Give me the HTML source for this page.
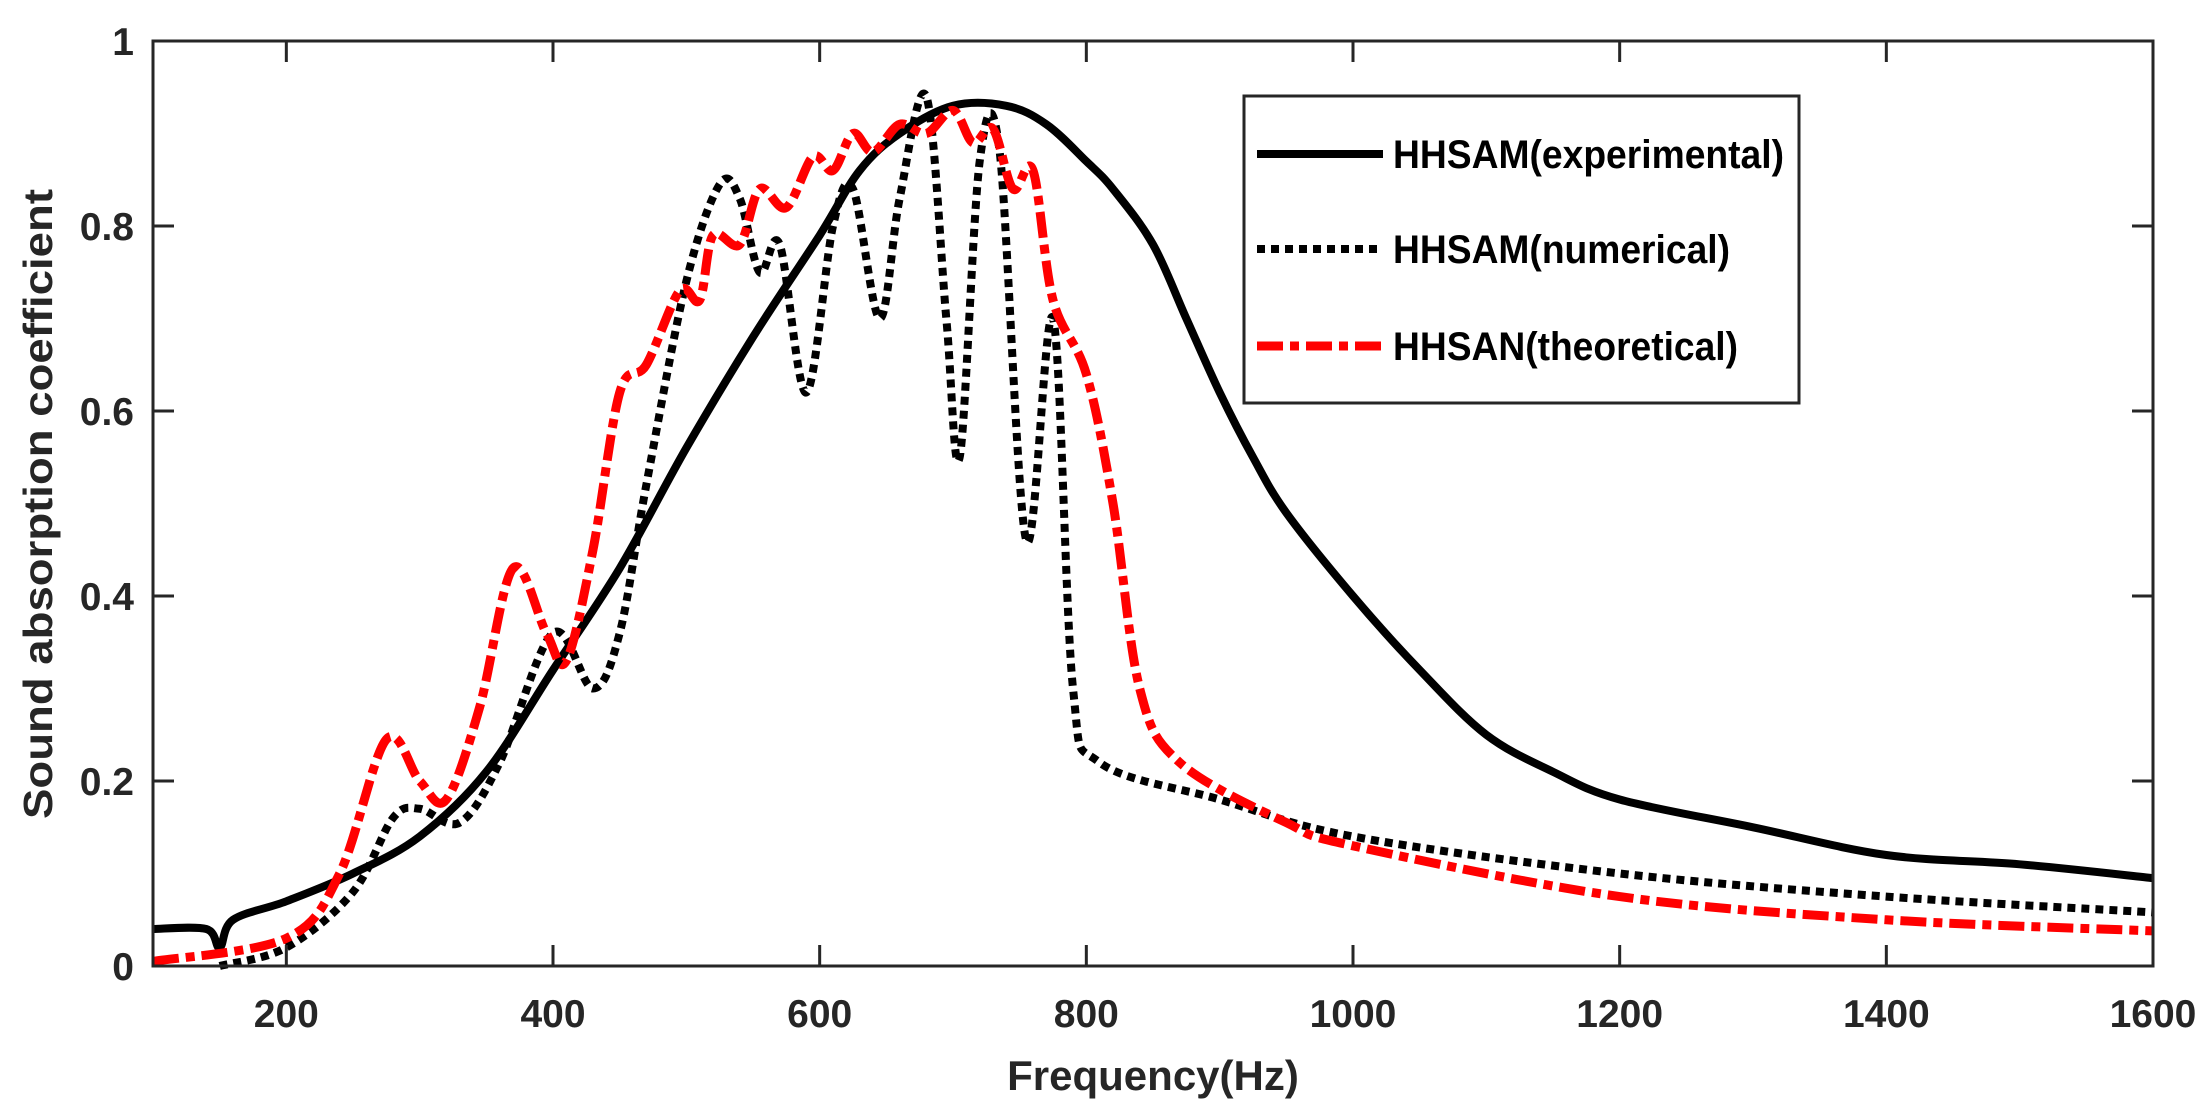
<!DOCTYPE html>
<html><head><meta charset="utf-8"><style>
html,body{margin:0;padding:0;background:#fff;}
svg{display:block;font-family:"Liberation Sans",Arial,sans-serif;font-weight:bold;}
</style></head><body>
<svg id="chart" width="2211" height="1115" viewBox="0 0 2211 1115" xmlns="http://www.w3.org/2000/svg">
<rect x="0" y="0" width="2211" height="1115" fill="#fff"/>
<g id="marks"></g>
<rect x="153" y="41" width="2000" height="925" fill="none" stroke="#262626" stroke-width="3"/>
<g id="ticks"></g>
<text x="1153" y="1090" font-size="42" text-anchor="middle" fill="#262626">Frequency(Hz)</text>
<text transform="translate(52,504) rotate(-90)" font-size="41" text-anchor="middle" fill="#262626" textLength="630" lengthAdjust="spacingAndGlyphs">Sound absorption coefficient</text>
<g>
<rect x="1244" y="96" width="555" height="307" fill="#fff" stroke="#262626" stroke-width="3"/>
<line x1="1257" y1="154" x2="1383" y2="154" stroke="#000" stroke-width="8"/>
<text x="1393" y="168" font-size="40" fill="#000" textLength="391" lengthAdjust="spacingAndGlyphs">HHSAM(experimental)</text>
<line x1="1257" y1="249" x2="1377" y2="249" stroke="#000" stroke-width="8" stroke-dasharray="8,6"/>
<text x="1393" y="263" font-size="40" fill="#000" textLength="337" lengthAdjust="spacingAndGlyphs">HHSAM(numerical)</text>
<line x1="1257" y1="346" x2="1383" y2="346" stroke="#f00" stroke-width="9" stroke-dasharray="26,7,9,7"/>
<text x="1393" y="360" font-size="40" fill="#000" textLength="345" lengthAdjust="spacingAndGlyphs">HHSAN(theoretical)</text>
</g>
</svg>
<script>
const expFreq=[100,140,150,160,200,250,300,350,400,450,500,550,600,630,660,700,740,770,800,820,850,875,900,925,950,1000,1050,1100,1150,1200,1300,1400,1500,1600];
const expVal=[0.04,0.04,0.02,0.05,0.07,0.10,0.14,0.21,0.32,0.43,0.56,0.68,0.79,0.86,0.90,0.93,0.93,0.91,0.87,0.84,0.78,0.70,0.62,0.55,0.49,0.40,0.32,0.25,0.21,0.18,0.15,0.12,0.11,0.095];
const numFreq=[150,200,250,280,300,330,360,400,430,450,470,500,525,540,555,570,590,610,625,645,660,680,695,705,720,735,755,775,790,810,900,1000,1200,1400,1600];
const numVal=[0.0,0.02,0.08,0.16,0.17,0.155,0.22,0.36,0.30,0.36,0.52,0.74,0.845,0.83,0.75,0.78,0.62,0.80,0.84,0.70,0.83,0.94,0.70,0.55,0.87,0.88,0.46,0.70,0.30,0.22,0.18,0.14,0.10,0.075,0.058];
const thFreq=[100,200,240,275,300,320,345,370,395,410,430,450,470,495,510,520,540,555,575,595,610,625,640,660,680,700,715,730,745,760,775,800,820,840,870,950,1000,1200,1400,1600];
const thVal=[0.005,0.03,0.1,0.245,0.20,0.18,0.28,0.43,0.36,0.33,0.45,0.62,0.65,0.73,0.72,0.79,0.78,0.84,0.82,0.875,0.86,0.90,0.88,0.91,0.90,0.925,0.89,0.905,0.84,0.86,0.72,0.64,0.50,0.30,0.22,0.155,0.13,0.075,0.05,0.038];
const xTicks=[200,400,600,800,1000,1200,1400,1600];
const yTicks=[0,0.2,0.4,0.6,0.8,1];
const yTickLabels=["0","0.2","0.4","0.6","0.8","1"];

const X=f=>153+(f-100)*2000/1500;
const Y=v=>966-v*925;
const NS="http://www.w3.org/2000/svg";
function smoothPath(fs,vs){
  const p=fs.map((f,i)=>[X(f),Y(vs[i])]);
  let d="M"+p[0][0].toFixed(1)+","+p[0][1].toFixed(1);
  for(let i=0;i<p.length-1;i++){
    const p0=p[Math.max(0,i-1)],p1=p[i],p2=p[i+1],p3=p[Math.min(p.length-1,i+2)];
    const c1=[p1[0]+(p2[0]-p0[0])/6,p1[1]+(p2[1]-p0[1])/6];
    const c2=[p2[0]-(p3[0]-p1[0])/6,p2[1]-(p3[1]-p1[1])/6];
    d+="C"+c1[0].toFixed(1)+","+c1[1].toFixed(1)+" "+c2[0].toFixed(1)+","+c2[1].toFixed(1)+" "+p2[0].toFixed(1)+","+p2[1].toFixed(1);
  }
  return d;
}
const marks=document.getElementById('marks');
function addSeries(fs,vs,color,w,dash,name){
  const el=document.createElementNS(NS,'path');
  el.setAttribute('d',smoothPath(fs,vs));
  el.setAttribute('fill','none');
  el.setAttribute('stroke',color);
  el.setAttribute('stroke-width',w);
  el.setAttribute('stroke-linejoin','round');
  if(dash)el.setAttribute('stroke-dasharray',dash);
  
  
  marks.appendChild(el);
}
addSeries(expFreq,expVal,'#000',8,null,'series-experimental');
addSeries(numFreq,numVal,'#000',8,'8,6','series-numerical');
addSeries(thFreq,thVal,'#f00',9,'26,7,9,7','series-theoretical');

const ticks=document.getElementById('ticks');
xTicks.forEach(t=>{
  const x=X(t);
  const l1=document.createElementNS(NS,'path');
  l1.setAttribute('d',`M${x},966V945M${x},41V62`);
  l1.setAttribute('stroke','#262626');l1.setAttribute('stroke-width','3');
  
  
  ticks.appendChild(l1);
  const tx=document.createElementNS(NS,'text');
  tx.setAttribute('x',x);tx.setAttribute('y',1027);
  tx.setAttribute('font-size','39');tx.setAttribute('text-anchor','middle');tx.setAttribute('fill','#262626');
  tx.textContent=t;
  
  
  ticks.appendChild(tx);
});
yTicks.forEach((t,i)=>{
  const y=Y(t);
  const l1=document.createElementNS(NS,'path');
  l1.setAttribute('d',`M153,${y}H174M2153,${y}H2132`);
  l1.setAttribute('stroke','#262626');l1.setAttribute('stroke-width','3');
  
  
  ticks.appendChild(l1);
  const tx=document.createElementNS(NS,'text');
  tx.setAttribute('x',134);tx.setAttribute('y',y+14);
  tx.setAttribute('font-size','39');tx.setAttribute('text-anchor','end');tx.setAttribute('fill','#262626');
  tx.textContent=yTickLabels[i];
  
  
  ticks.appendChild(tx);
});
</script>
</body></html>
